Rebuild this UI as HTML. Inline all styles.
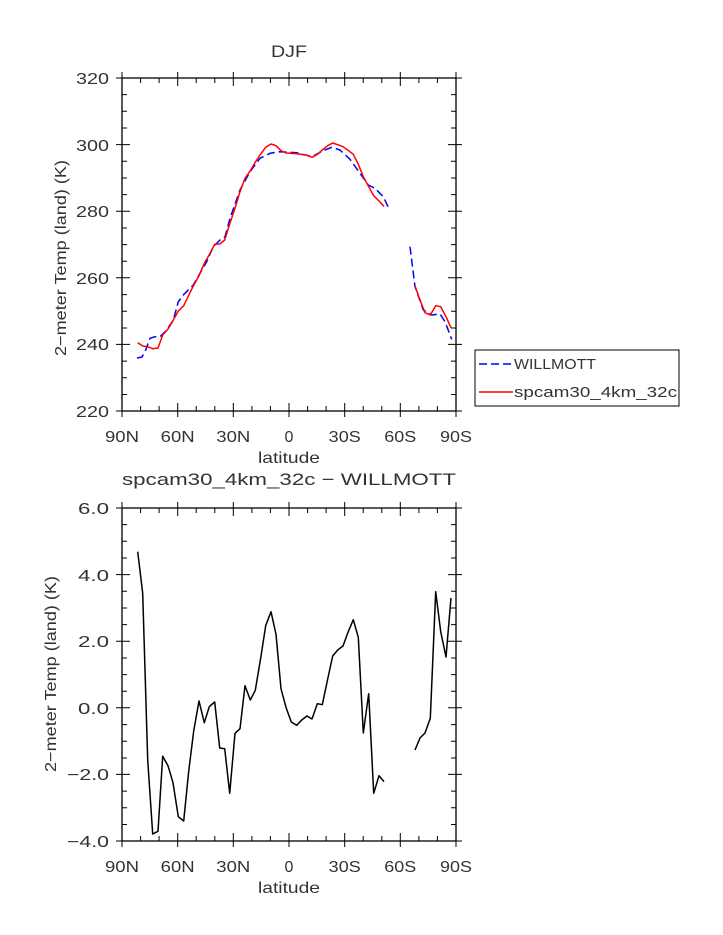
<!DOCTYPE html>
<html><head><style>body{margin:0;background:#fff}svg{display:block}text{font-family:"Liberation Sans",sans-serif;fill:#333}</style></head>
<body>
<svg width="723" height="935" viewBox="0 0 723 935" xmlns="http://www.w3.org/2000/svg">
<g font-size="16">
<text x="289" y="57" text-anchor="middle" font-size="17" textLength="36" lengthAdjust="spacingAndGlyphs">DJF</text>
<text x="289" y="485" text-anchor="middle" font-size="17" textLength="334" lengthAdjust="spacingAndGlyphs">spcam30_4km_32c − WILLMOTT</text>
<rect x="122" y="78" width="334" height="333" fill="none" stroke="#000" stroke-width="1.3"/>
<rect x="122" y="508" width="334" height="333" fill="none" stroke="#000" stroke-width="1.3"/>
<g stroke="#000" stroke-width="1">
<path d="M116 78h14M116 144.6h14M116 211.2h14M116 277.8h14M116 344.4h14M116 411h14M462 78h-14M462 144.6h-14M462 211.2h-14M462 277.8h-14M462 344.4h-14M462 411h-14"/>
<path d="M122 94.6h5M122 111.3h5M122 128h5M122 161.3h5M122 178h5M122 194.6h5M122 228h5M122 244.6h5M122 261.3h5M122 294.6h5M122 311.3h5M122 328h5M122 361.1h5M122 377.8h5M122 394.5h5M456 94.6h-5M456 111.3h-5M456 128h-5M456 161.3h-5M456 178h-5M456 194.6h-5M456 228h-5M456 244.6h-5M456 261.3h-5M456 294.6h-5M456 311.3h-5M456 328h-5M456 361.1h-5M456 377.8h-5M456 394.5h-5"/>
<path d="M116 508h14M116 574.6h14M116 641.2h14M116 707.8h14M116 774.4h14M116 841h14M462 508h-14M462 574.6h-14M462 641.2h-14M462 707.8h-14M462 774.4h-14M462 841h-14"/>
<path d="M122 524.6h5M122 541.3h5M122 558h5M122 591.3h5M122 608h5M122 624.6h5M122 658h5M122 674.6h5M122 691.3h5M122 724.6h5M122 741.3h5M122 758h5M122 791.1h5M122 807.8h5M122 824.5h5M456 524.6h-5M456 541.3h-5M456 558h-5M456 591.3h-5M456 608h-5M456 624.6h-5M456 658h-5M456 674.6h-5M456 691.3h-5M456 724.6h-5M456 741.3h-5M456 758h-5M456 791.1h-5M456 807.8h-5M456 824.5h-5"/>
<path d="M122 417v-14M177.7 417v-14M233.3 417v-14M289 417v-14M344.7 417v-14M400.3 417v-14M456 417v-14M122 72v14M177.7 72v14M233.3 72v14M289 72v14M344.7 72v14M400.3 72v14M456 72v14"/>
<path d="M140.6 411v-5M159.1 411v-5M196.2 411v-5M214.8 411v-5M251.9 411v-5M270.4 411v-5M307.6 411v-5M326.1 411v-5M363.2 411v-5M381.8 411v-5M418.9 411v-5M437.4 411v-5M140.6 78v5M159.1 78v5M196.2 78v5M214.8 78v5M251.9 78v5M270.4 78v5M307.6 78v5M326.1 78v5M363.2 78v5M381.8 78v5M418.9 78v5M437.4 78v5"/>
<path d="M122 847v-14M177.7 847v-14M233.3 847v-14M289 847v-14M344.7 847v-14M400.3 847v-14M456 847v-14M122 502v14M177.7 502v14M233.3 502v14M289 502v14M344.7 502v14M400.3 502v14M456 502v14"/>
<path d="M140.6 841v-5M159.1 841v-5M196.2 841v-5M214.8 841v-5M251.9 841v-5M270.4 841v-5M307.6 841v-5M326.1 841v-5M363.2 841v-5M381.8 841v-5M418.9 841v-5M437.4 841v-5M140.6 508v5M159.1 508v5M196.2 508v5M214.8 508v5M251.9 508v5M270.4 508v5M307.6 508v5M326.1 508v5M363.2 508v5M381.8 508v5M418.9 508v5M437.4 508v5"/>
</g>
<g text-anchor="end">
<text x="109" y="84" textLength="33" lengthAdjust="spacingAndGlyphs">320</text><text x="109" y="151" textLength="33" lengthAdjust="spacingAndGlyphs">300</text><text x="109" y="217" textLength="33" lengthAdjust="spacingAndGlyphs">280</text><text x="109" y="284" textLength="33" lengthAdjust="spacingAndGlyphs">260</text><text x="109" y="350" textLength="33" lengthAdjust="spacingAndGlyphs">240</text><text x="109" y="417" textLength="33" lengthAdjust="spacingAndGlyphs">220</text>
<text x="109" y="514" textLength="31" lengthAdjust="spacingAndGlyphs">6.0</text><text x="109" y="581" textLength="31" lengthAdjust="spacingAndGlyphs">4.0</text><text x="109" y="647" textLength="31" lengthAdjust="spacingAndGlyphs">2.0</text><text x="109" y="714" textLength="31" lengthAdjust="spacingAndGlyphs">0.0</text><text x="109" y="780" textLength="42" lengthAdjust="spacingAndGlyphs">−2.0</text><text x="109" y="847" textLength="42" lengthAdjust="spacingAndGlyphs">−4.0</text>
</g>
<g text-anchor="middle">
<text x="122" y="442" textLength="34" lengthAdjust="spacingAndGlyphs">90N</text><text x="177.7" y="442" textLength="34" lengthAdjust="spacingAndGlyphs">60N</text><text x="233.3" y="442" textLength="34" lengthAdjust="spacingAndGlyphs">30N</text><text x="289" y="442">0</text><text x="344.7" y="442" textLength="32" lengthAdjust="spacingAndGlyphs">30S</text><text x="400.3" y="442" textLength="32" lengthAdjust="spacingAndGlyphs">60S</text><text x="456" y="442" textLength="32" lengthAdjust="spacingAndGlyphs">90S</text>
<text x="289" y="463" textLength="62" lengthAdjust="spacingAndGlyphs">latitude</text>
<text x="122" y="872" textLength="34" lengthAdjust="spacingAndGlyphs">90N</text><text x="177.7" y="872" textLength="34" lengthAdjust="spacingAndGlyphs">60N</text><text x="233.3" y="872" textLength="34" lengthAdjust="spacingAndGlyphs">30N</text><text x="289" y="872">0</text><text x="344.7" y="872" textLength="32" lengthAdjust="spacingAndGlyphs">30S</text><text x="400.3" y="872" textLength="32" lengthAdjust="spacingAndGlyphs">60S</text><text x="456" y="872" textLength="32" lengthAdjust="spacingAndGlyphs">90S</text>
<text x="289" y="893" textLength="62" lengthAdjust="spacingAndGlyphs">latitude</text>
<text transform="translate(66,258) rotate(-90)" textLength="196" lengthAdjust="spacingAndGlyphs">2−meter Temp (land) (K)</text>
<text transform="translate(56,674) rotate(-90)" textLength="196" lengthAdjust="spacingAndGlyphs">2−meter Temp (land) (K)</text>
</g>
</g>
<g fill="none" stroke-width="1.5" stroke-linejoin="round">
<polyline stroke="#00f" stroke-dasharray="8,4" points="137,358 142,357 145.7,350 150,338.3 155,336.7 160,336.7 166.7,330 173.3,320 178.3,301.7 183.3,295 193.3,285 200,273.3 206.7,261.7 213.3,246.7 220,240 225,236.7 230,218.3 240,190 250,171.7 260,158.3 270,153.3 280,151.7 296.7,152.7 312,156.7 323.3,150.7 331.7,147.3 340,150 350,159.3 360,173.3 368.3,185 375,188.3 383.3,196.7 389.3,209.3"/>
<polyline stroke="#00f" stroke-dasharray="8,4" points="410,246.7 415,286.7 423.3,310 431.7,315 440,314 445,321.7 451.7,339.3"/>
<polyline stroke="#f00" points="137.7,342.7 142.7,346 147.7,346.7 152.7,348.7 158,348 162.7,335 168,329 173,320.7 178.3,311 183.7,305.7 188.7,295.3 193.7,285.3 199,275.7 204.3,263.3 209.3,254.7 214.7,244.3 219.7,244 224.7,240 229.7,224 235,208.3 240,191.7 245,178.3 250.3,170.7 255.3,162.3 260.7,154 265.7,147.3 271,144 276,145.7 281,150.7 286.3,153 296.7,153.7 307,155.3 312,157.3 317.3,154.3 322.3,150 327.7,145.7 332.7,143 337.7,144.7 343,146.7 348,150.3 353.3,154.3 358.3,164.3 363.3,176.7 368.7,186.7 373.7,195.7 379,201 384,206.3"/>
<polyline stroke="#f00" points="415,286 420,300 425,312.7 430.3,315 435.7,305.7 440.7,306.7 446,316.7 451,327.7"/>
<polyline stroke="#000" points="137.7,551.7 142.7,593.3 147.7,760 152.7,834 158,831.3 162.7,756.3 168,765.7 173,782.7 178.3,816.7 183.7,821 188.7,771.3 193.7,731 199,701 204.3,722.7 209.3,706.7 214.7,702 219.7,748 224.7,748.7 229.7,793.3 235,733.3 240,728.7 245,685.7 250.3,700 255.3,690.3 260.7,658 265.7,625.7 271,611.7 276,634.3 281,688.7 286.3,708.3 291.3,722 296.7,725.3 301.7,720 307,716 312,719 317.3,703.7 322.3,704.7 327.7,679 332.7,656 337.7,650 343,646 348,632.3 353.3,619.7 358.3,637.3 363.3,733 368.7,693.7 373.7,793.3 379,775.7 384,781.7"/>
<polyline stroke="#000" points="415,750 420,738 425,733 430.3,718.3 435.7,591.7 440.7,631.7 446,657 451,598"/>
</g>
<rect x="475" y="350" width="204" height="56" fill="#fff" stroke="#000" stroke-width="1"/>
<line x1="479" y1="364" x2="513" y2="364" stroke="#00f" stroke-width="1.5" stroke-dasharray="8,4"/>
<line x1="479" y1="392" x2="513" y2="392" stroke="#f00" stroke-width="1.5"/>
<text x="514" y="369" font-size="15" textLength="82" lengthAdjust="spacingAndGlyphs">WILLMOTT</text>
<text x="514" y="397" font-size="15" textLength="163" lengthAdjust="spacingAndGlyphs">spcam30_4km_32c</text>
</svg>
</body></html>
